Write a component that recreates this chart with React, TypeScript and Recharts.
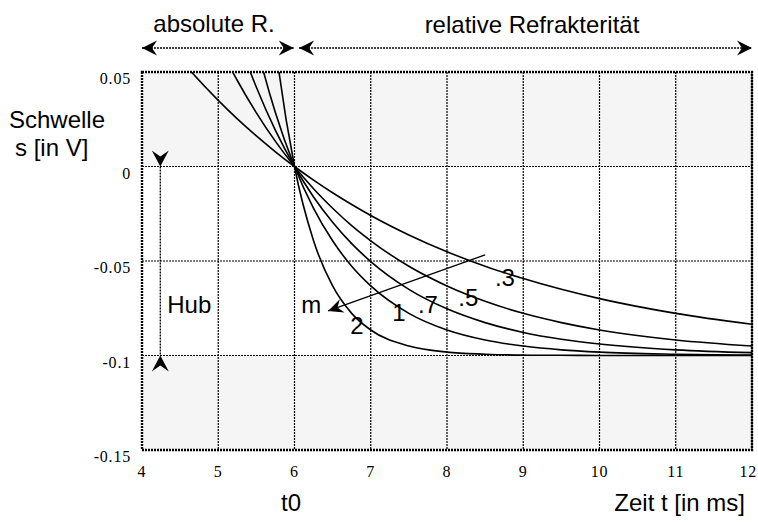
import React from 'react';
import {
  LineChart,
  Line,
  XAxis,
  YAxis,
  CartesianGrid,
  ReferenceLine,
  ReferenceDot,
  ReferenceArea,
} from 'recharts';

// ---- data ----
const timeMs = [4, 4.5, 5, 5.25, 5.5, 5.75, 6, 6.25, 6.5, 6.75, 7, 7.5, 8, 8.5, 9, 9.5, 10, 11, 12];
const curveM03 = [0.0822, 0.0568, 0.035, 0.0252, 0.0162, 0.0078, 0, -0.0072, -0.0139, -0.0201, -0.0259, -0.0362, -0.0451, -0.0528, -0.0593, -0.065, -0.0699, -0.0777, -0.0835];
const curveM05 = [0.1718, 0.1117, 0.0649, 0.0455, 0.0284, 0.0133, 0, -0.0118, -0.0221, -0.0313, -0.0393, -0.0528, -0.0632, -0.0713, -0.0777, -0.0826, -0.0865, -0.0918, -0.095];
const curveM07 = [0.3055, 0.1858, 0.1014, 0.069, 0.0419, 0.0191, 0, -0.0161, -0.0295, -0.0408, -0.0503, -0.065, -0.0753, -0.0826, -0.0878, -0.0914, -0.0939, -0.097, -0.0985];
const curveM1 = [0.639, 0.348, 0.1718, 0.1117, 0.0649, 0.0284, 0, -0.0221, -0.0393, -0.0528, -0.0632, -0.0777, -0.0865, -0.0918, -0.095, -0.097, -0.0982, -0.0993, -0.0998];
const curveM2 = [null, null, null, null, 0.1718, 0.0649, 0, -0.0393, -0.0632, -0.0777, -0.0865, -0.095, -0.0982, -0.0993, -0.0998, -0.0999, -0.1, -0.1, -0.1];

const seriesKeys = ['m03', 'm05', 'm07', 'm1', 'm2'];
const seriesValues = [curveM03, curveM05, curveM07, curveM1, curveM2];

const xTicks = [4, 5, 6, 7, 8, 9, 10, 11, 12];
const yTicks = [-0.15, -0.1, -0.05, 0, 0.05];
const yTickLabels = ['-0.15', '-0.1', '-0.05', '0', '0.05'];

const curveLabelTexts = ['2', '1', '.7', '.5', '.3'];
const curveLabelT = [6.82, 7.37, 7.75, 8.28, 8.76];
const curveLabelS = [-0.0843, -0.0774, -0.0731, -0.069, -0.0584];

const data = timeMs.map((t, i) => {
  const row: any = { t };
  seriesKeys.forEach((k, j) => {
    row[k] = seriesValues[j][i];
  });
  return row;
});

// ---- styling ----
const SANS = "'Liberation Sans', Arial, Helvetica, sans-serif";
const SERIF = "'Liberation Serif', 'Times New Roman', Times, serif";
const W = 758;
const H = 522;
const TXT = 24;

function headPath(tx: number, ty: number, dx: number, dy: number, L = 14, Wd = 7, N = 5) {
  const len = Math.hypot(dx, dy) || 1;
  const ux = dx / len;
  const uy = dy / len;
  const nx = -uy;
  const ny = ux;
  const bx = tx - ux * L;
  const by = ty - uy * L;
  const cx = tx - ux * (L - N);
  const cy = ty - uy * (L - N);
  return `M${tx},${ty} L${bx + nx * Wd},${by + ny * Wd} L${cx},${cy} L${bx - nx * Wd},${by - ny * Wd} Z`;
}

// heads pointing outward at both ends (dashed)
const OutwardArrow = (props: any) => {
  const { x1, y1, x2, y2 } = props;
  return (
    <g>
      <line x1={x1} y1={y1} x2={x2} y2={y2} stroke="#000" strokeWidth={1.3} strokeDasharray="2 1" />
      <path d={headPath(x1, y1, x1 - x2, y1 - y2, 15, 7.5, 5)} fill="#000" />
      <path d={headPath(x2, y2, x2 - x1, y2 - y1, 15, 7.5, 5)} fill="#000" />
    </g>
  );
};

// heads pointing inward, placed outside both ends (dashed)
const InwardArrow = (props: any) => {
  const { x1, y1, x2, y2 } = props;
  return (
    <g>
      <line x1={x1} y1={y1} x2={x2} y2={y2} stroke="#000" strokeWidth={1.3} strokeDasharray="2 1" />
      <path d={headPath(x1, y1, x2 - x1, y2 - y1, 16, 8.5, 6)} fill="#000" />
      <path d={headPath(x2, y2, x1 - x2, y1 - y2, 16, 8.5, 6)} fill="#000" />
    </g>
  );
};

// solid arrow, head at second point
const SolidArrow = (props: any) => {
  const { x1, y1, x2, y2 } = props;
  return (
    <g>
      <line x1={x1} y1={y1} x2={x2} y2={y2} stroke="#000" strokeWidth={1.3} />
      <path d={headPath(x2, y2, x2 - x1, y2 - y1, 15, 7, 5)} fill="#000" />
    </g>
  );
};

const makeTextDot = (text: string, size = TXT) => (props: any) => {
  const { cx, cy } = props;
  return (
    <text
      x={cx}
      y={cy + size * 0.36}
      textAnchor="middle"
      style={{ fontFamily: SANS, fontSize: size }}
      fill="#000"
    >
      {text}
    </text>
  );
};

const XTick = (props: any) => {
  const { x, y, payload } = props;
  const isLast = payload.value === xTicks[xTicks.length - 1];
  return (
    <text
      x={isLast ? x + 5 : x}
      y={y + 27}
      textAnchor={isLast ? 'end' : 'middle'}
      style={{ fontFamily: SERIF, fontSize: 16, letterSpacing: 0.8 }}
      fill="#000"
    >
      {payload.value}
    </text>
  );
};

const YTick = (props: any) => {
  const { x, y, payload } = props;
  const idx = yTicks.indexOf(payload.value);
  return (
    <text
      x={x - 11}
      y={y + 12}
      textAnchor="end"
      style={{ fontFamily: SERIF, fontSize: 16, letterSpacing: 0.8 }}
      fill="#000"
    >
      {idx >= 0 ? yTickLabels[idx] : String(payload.value)}
    </text>
  );
};

export default function App() {
  return (
    <div style={{ position: 'absolute', left: 0, top: 0, width: W, height: H, background: '#fff' }}>
      <LineChart
        width={W}
        height={H}
        data={data}
        margin={{ top: 72, right: 6, bottom: 42, left: 82 }}
      >
        <CartesianGrid
          stroke="#000"
          strokeDasharray="2 1"
          strokeWidth={1.2}
          horizontalFill={['#f5f5f5', '#ffffff', '#ffffff', '#f5f5f5', '#ffffff']}
          fillOpacity={1}
        />
        <XAxis
          dataKey="t"
          type="number"
          domain={[4, 12]}
          ticks={xTicks}
          allowDataOverflow
          tick={<XTick />}
          tickLine={false}
          axisLine={false}
          tickSize={0}
          tickMargin={0}
          height={30}
          interval={0}
        />
        <YAxis
          type="number"
          domain={[-0.15, 0.05]}
          ticks={yTicks}
          allowDataOverflow
          tick={<YTick />}
          tickLine={false}
          axisLine={false}
          tickSize={0}
          tickMargin={0}
          width={60}
          interval={0}
        />
        <ReferenceArea
          x1={4}
          x2={12}
          y1={-0.15}
          y2={0.05}
          fill="none"
          stroke="#000"
          strokeWidth={2.4}
          strokeDasharray="2 1"
          ifOverflow="visible"
        />
        {seriesKeys.map((k) => (
          <Line
            key={k}
            dataKey={k}
            type="monotone"
            stroke="#000"
            strokeWidth={1.6}
            dot={false}
            activeDot={false}
            isAnimationActive={false}
            connectNulls={false}
          />
        ))}
        {/* top arrows: absolute / relative refractory period */}
        <ReferenceLine
          segment={[{ x: 4, y: 0.0627 }, { x: 5.99, y: 0.0627 }]}
          ifOverflow="visible"
          shape={OutwardArrow}
        />
        <ReferenceLine
          segment={[{ x: 6.06, y: 0.0627 }, { x: 12, y: 0.0627 }]}
          ifOverflow="visible"
          shape={OutwardArrow}
        />
        {/* Hub arrow */}
        <ReferenceLine
          segment={[{ x: 4.24, y: 0 }, { x: 4.24, y: -0.1 }]}
          ifOverflow="visible"
          shape={InwardArrow}
        />
        {/* m arrow */}
        <ReferenceLine
          segment={[{ x: 8.5, y: -0.0467 }, { x: 6.44, y: -0.0764 }]}
          ifOverflow="visible"
          shape={SolidArrow}
        />
        <ReferenceDot x={4.62} y={-0.0731} r={0} ifOverflow="visible" shape={makeTextDot('Hub')} />
        <ReferenceDot x={6.22} y={-0.0731} r={0} ifOverflow="visible" shape={makeTextDot('m')} />
        {curveLabelTexts.map((txt, i) => (
          <ReferenceDot
            key={txt}
            x={curveLabelT[i]}
            y={curveLabelS[i]}
            r={0}
            ifOverflow="visible"
            shape={makeTextDot(txt)}
          />
        ))}
      </LineChart>
      <svg
        width={W}
        height={H}
        style={{ position: 'absolute', left: 0, top: 0, pointerEvents: 'none' }}
      >
        <g style={{ fontFamily: SANS, fontSize: TXT }} fill="#000">
          <text x={214} y={32} textAnchor="middle">absolute R.</text>
          <text x={532} y={33} textAnchor="middle">relative Refrakterität</text>
          <text x={9} y={128}>Schwelle</text>
          <text x={15} y={156}>s [in V]</text>
          <text x={291} y={511} textAnchor="middle">t0</text>
          <text x={745} y={511} textAnchor="end">Zeit t [in ms]</text>
        </g>
      </svg>
    </div>
  );
}
